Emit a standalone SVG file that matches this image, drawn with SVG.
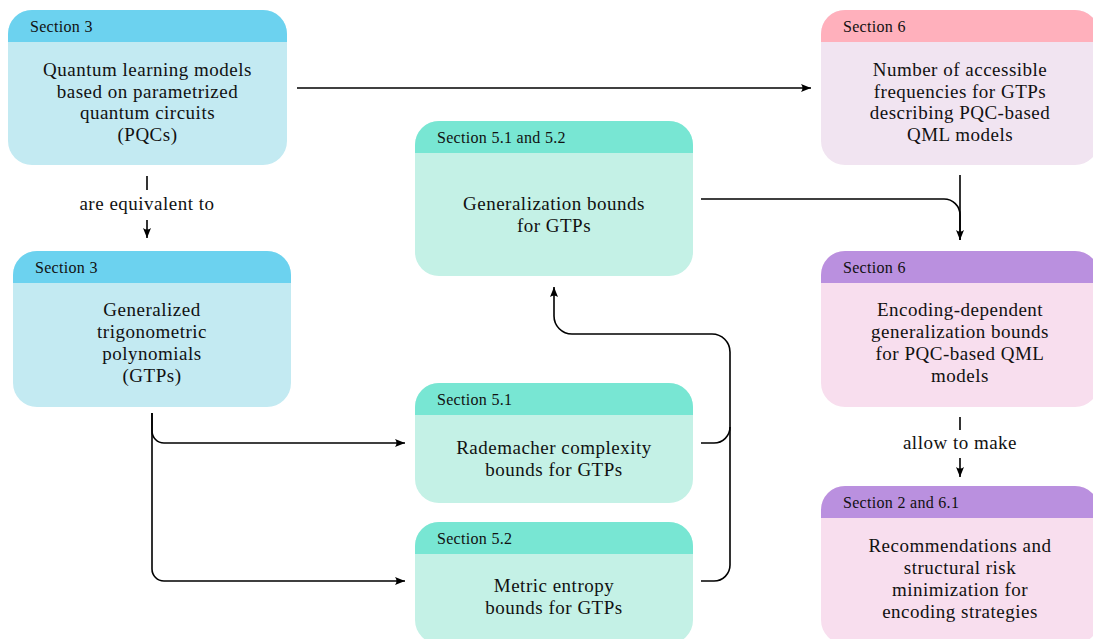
<svg xmlns="http://www.w3.org/2000/svg" width="1093" height="639" viewBox="0 0 1093 639">
<style>
.t{font-family:"Liberation Serif","Times New Roman",serif;font-size:19px;letter-spacing:0.5px;fill:#111;text-anchor:middle}
.s{font-family:"Liberation Serif","Times New Roman",serif;font-size:16px;letter-spacing:0.3px;fill:#111}
.l{font-family:"Liberation Serif","Times New Roman",serif;font-size:19px;letter-spacing:0.5px;fill:#111;text-anchor:middle}
.c{fill:none;stroke:#000;stroke-width:1.6}
.bB{fill:#C3EAF2}.hB{fill:#6CD2EF}
.bT{fill:#C4F1E6}.hT{fill:#78E6D3}
.bP{fill:#F1E4F1}.hP{fill:#FFB0BC}
.bV{fill:#F8DEEE}.hV{fill:#BA90DF}
</style>
<defs>
<marker id="ar" markerUnits="userSpaceOnUse" markerWidth="11" markerHeight="9" refX="10" refY="4" orient="auto">
<path d="M0,0 Q3,4 0,8 L10,4 Z" fill="#000"/>
</marker>
</defs>
<rect width="1093" height="639" fill="#fff"/>

<g id="n-pqc">
<rect class="bB" x="8" y="10" width="279" height="155" rx="24"/>
<path class="hB" d="M8,42 V34 A24,24 0 0 1 32,10 H263 A24,24 0 0 1 287,34 V42 Z"/>
<text class="s" x="30" y="32">Section 3</text>
<text class="t" x="147.5" y="76"><tspan x="147.5">Quantum learning models</tspan><tspan x="147.5" dy="21.7">based on parametrized</tspan><tspan x="147.5" dy="21.7">quantum circuits</tspan><tspan x="147.5" dy="21.7">(PQCs)</tspan></text>
</g>

<g id="n-gtp">
<rect class="bB" x="13" y="251" width="278" height="156" rx="24"/>
<path class="hB" d="M13,283 V275 A24,24 0 0 1 37,251 H267 A24,24 0 0 1 291,275 V283 Z"/>
<text class="s" x="35" y="273">Section 3</text>
<text class="t" x="152" y="316"><tspan x="152">Generalized</tspan><tspan x="152" dy="22">trigonometric</tspan><tspan x="152" dy="22">polynomials</tspan><tspan x="152" dy="22">(GTPs)</tspan></text>
</g>

<g id="n-gen">
<rect class="bT" x="415" y="121" width="278" height="155" rx="24"/>
<path class="hT" d="M415,153 V145 A24,24 0 0 1 439,121 H669 A24,24 0 0 1 693,145 V153 Z"/>
<text class="s" x="437" y="143">Section 5.1 and 5.2</text>
<text class="t" x="554" y="210"><tspan x="554">Generalization bounds</tspan><tspan x="554" dy="22">for GTPs</tspan></text>
</g>

<g id="n-rad">
<rect class="bT" x="415" y="383" width="278" height="120" rx="24"/>
<path class="hT" d="M415,415 V407 A24,24 0 0 1 439,383 H669 A24,24 0 0 1 693,407 V415 Z"/>
<text class="s" x="437" y="405">Section 5.1</text>
<text class="t" x="554" y="454"><tspan x="554">Rademacher complexity</tspan><tspan x="554" dy="22">bounds for GTPs</tspan></text>
</g>

<g id="n-met">
<rect class="bT" x="415" y="522" width="278" height="122" rx="24"/>
<path class="hT" d="M415,554 V546 A24,24 0 0 1 439,522 H669 A24,24 0 0 1 693,546 V554 Z"/>
<text class="s" x="437" y="544">Section 5.2</text>
<text class="t" x="554" y="592"><tspan x="554">Metric entropy</tspan><tspan x="554" dy="22">bounds for GTPs</tspan></text>
</g>

<g id="n-num">
<rect class="bP" x="821" y="10" width="278" height="155" rx="24"/>
<path class="hP" d="M821,42 V34 A24,24 0 0 1 845,10 H1075 A24,24 0 0 1 1099,34 V42 Z"/>
<text class="s" x="843" y="32">Section 6</text>
<text class="t" x="960" y="76"><tspan x="960">Number of accessible</tspan><tspan x="960" dy="21.7">frequencies for GTPs</tspan><tspan x="960" dy="21.7">describing PQC-based</tspan><tspan x="960" dy="21.7">QML models</tspan></text>
</g>

<g id="n-enc">
<rect class="bV" x="821" y="251" width="278" height="156" rx="24"/>
<path class="hV" d="M821,283 V275 A24,24 0 0 1 845,251 H1075 A24,24 0 0 1 1099,275 V283 Z"/>
<text class="s" x="843" y="273">Section 6</text>
<text class="t" x="960" y="316"><tspan x="960">Encoding-dependent</tspan><tspan x="960" dy="22">generalization bounds</tspan><tspan x="960" dy="22">for PQC-based QML</tspan><tspan x="960" dy="22">models</tspan></text>
</g>

<g id="n-rec">
<rect class="bV" x="821" y="486" width="278" height="158" rx="24"/>
<path class="hV" d="M821,518 V510 A24,24 0 0 1 845,486 H1075 A24,24 0 0 1 1099,510 V518 Z"/>
<text class="s" x="843" y="508">Section 2 and 6.1</text>
<text class="t" x="960" y="552"><tspan x="960">Recommendations and</tspan><tspan x="960" dy="22">structural risk</tspan><tspan x="960" dy="22">minimization for</tspan><tspan x="960" dy="22">encoding strategies</tspan></text>
</g>

<g id="connectors">
<path class="c" d="M297,88 H811" marker-end="url(#ar)"/>
<path class="c" d="M147,176 V190"/>
<path class="c" d="M147,220 V238" marker-end="url(#ar)"/>
<text class="l" x="147" y="210">are equivalent to</text>
<path class="c" d="M152,413 V431 A12,12 0 0 0 164,443 H405" marker-end="url(#ar)"/>
<path class="c" d="M152,413 V569 A12,12 0 0 0 164,581 H405" marker-end="url(#ar)"/>
<path class="c" d="M701,443 H714 A16,16 0 0 0 730,427 V352 A18,18 0 0 0 712,334 H572 A18,18 0 0 1 554,316 V287" marker-end="url(#ar)"/>
<path class="c" d="M701,581 H714 A16,16 0 0 0 730,565 V427"/>
<path class="c" d="M701,199 H944 A16,16 0 0 1 960,215 V240" marker-end="url(#ar)"/>
<path class="c" d="M960,175 V240"/>
<path class="c" d="M960,417 V430"/>
<path class="c" d="M960,458 V477" marker-end="url(#ar)"/>
<text class="l" x="960" y="449">allow to make</text>
</g>
</svg>
